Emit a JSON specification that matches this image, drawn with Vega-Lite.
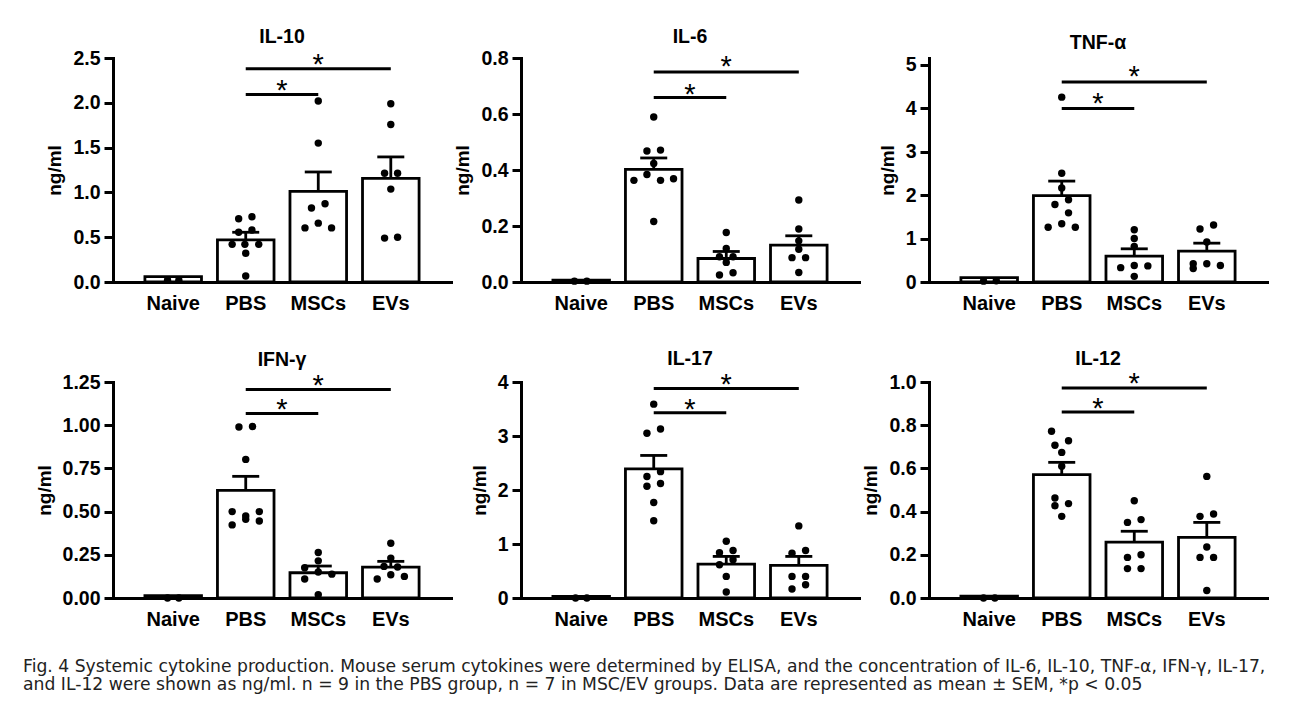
{
  "$schema": "https://vega.github.io/schema/vega-lite/v6.json",
  "background": "white",
  "padding": {"left": 23, "top": 26, "right": 5, "bottom": 5},
  "datasets": {
    "d": [
      {"p": "IL-10", "k": "bar", "g": "Naive", "v": 0.06},
      {"p": "IL-10", "k": "bar", "g": "PBS", "v": 0.47, "hi": 0.555},
      {"p": "IL-10", "k": "bar", "g": "MSCs", "v": 1.011, "hi": 1.228},
      {"p": "IL-10", "k": "bar", "g": "EVs", "v": 1.157, "hi": 1.396},
      {"p": "IL-10", "k": "pt", "g": "Naive", "v": 0.02, "j": -0.2},
      {"p": "IL-10", "k": "pt", "g": "Naive", "v": 0.02, "j": 0.2},
      {"p": "IL-10", "k": "pt", "g": "PBS", "v": 0.705, "j": -0.25},
      {"p": "IL-10", "k": "pt", "g": "PBS", "v": 0.728, "j": 0.22},
      {"p": "IL-10", "k": "pt", "g": "PBS", "v": 0.556, "j": -0.25},
      {"p": "IL-10", "k": "pt", "g": "PBS", "v": 0.58, "j": 0.22},
      {"p": "IL-10", "k": "pt", "g": "PBS", "v": 0.42, "j": -0.48},
      {"p": "IL-10", "k": "pt", "g": "PBS", "v": 0.42, "j": -0.03},
      {"p": "IL-10", "k": "pt", "g": "PBS", "v": 0.42, "j": 0.46},
      {"p": "IL-10", "k": "pt", "g": "PBS", "v": 0.32, "j": 0},
      {"p": "IL-10", "k": "pt", "g": "PBS", "v": 0.067, "j": 0},
      {"p": "IL-10", "k": "pt", "g": "MSCs", "v": 2.02, "j": 0},
      {"p": "IL-10", "k": "pt", "g": "MSCs", "v": 1.55, "j": 0},
      {"p": "IL-10", "k": "pt", "g": "MSCs", "v": 0.825, "j": -0.24},
      {"p": "IL-10", "k": "pt", "g": "MSCs", "v": 0.873, "j": 0.24},
      {"p": "IL-10", "k": "pt", "g": "MSCs", "v": 0.604, "j": -0.47},
      {"p": "IL-10", "k": "pt", "g": "MSCs", "v": 0.657, "j": 0},
      {"p": "IL-10", "k": "pt", "g": "MSCs", "v": 0.604, "j": 0.47},
      {"p": "IL-10", "k": "pt", "g": "EVs", "v": 1.99, "j": 0},
      {"p": "IL-10", "k": "pt", "g": "EVs", "v": 1.757, "j": 0},
      {"p": "IL-10", "k": "pt", "g": "EVs", "v": 1.213, "j": -0.22},
      {"p": "IL-10", "k": "pt", "g": "EVs", "v": 1.213, "j": 0.24},
      {"p": "IL-10", "k": "pt", "g": "EVs", "v": 1.037, "j": 0},
      {"p": "IL-10", "k": "pt", "g": "EVs", "v": 0.49, "j": -0.22},
      {"p": "IL-10", "k": "pt", "g": "EVs", "v": 0.5, "j": 0.24},
      {"p": "IL-10", "k": "sig", "g": "PBS", "g2": "MSCs", "v": 2.093, "s": 2.2},
      {"p": "IL-10", "k": "sig", "g": "PBS", "g2": "EVs", "v": 2.38, "s": 2.485},

      {"p": "IL-6", "k": "bar", "g": "Naive", "v": 0.007},
      {"p": "IL-6", "k": "bar", "g": "PBS", "v": 0.402, "hi": 0.443},
      {"p": "IL-6", "k": "bar", "g": "MSCs", "v": 0.084, "hi": 0.109},
      {"p": "IL-6", "k": "bar", "g": "EVs", "v": 0.132, "hi": 0.165},
      {"p": "IL-6", "k": "pt", "g": "Naive", "v": 0.003, "j": -0.24},
      {"p": "IL-6", "k": "pt", "g": "Naive", "v": 0.003, "j": 0.2},
      {"p": "IL-6", "k": "pt", "g": "PBS", "v": 0.589, "j": 0},
      {"p": "IL-6", "k": "pt", "g": "PBS", "v": 0.468, "j": -0.24},
      {"p": "IL-6", "k": "pt", "g": "PBS", "v": 0.471, "j": 0.24},
      {"p": "IL-6", "k": "pt", "g": "PBS", "v": 0.423, "j": 0},
      {"p": "IL-6", "k": "pt", "g": "PBS", "v": 0.363, "j": -0.7},
      {"p": "IL-6", "k": "pt", "g": "PBS", "v": 0.384, "j": -0.24},
      {"p": "IL-6", "k": "pt", "g": "PBS", "v": 0.363, "j": 0.24},
      {"p": "IL-6", "k": "pt", "g": "PBS", "v": 0.369, "j": 0.7},
      {"p": "IL-6", "k": "pt", "g": "PBS", "v": 0.216, "j": 0},
      {"p": "IL-6", "k": "pt", "g": "MSCs", "v": 0.177, "j": 0},
      {"p": "IL-6", "k": "pt", "g": "MSCs", "v": 0.12, "j": 0},
      {"p": "IL-6", "k": "pt", "g": "MSCs", "v": 0.09, "j": -0.24},
      {"p": "IL-6", "k": "pt", "g": "MSCs", "v": 0.09, "j": 0.24},
      {"p": "IL-6", "k": "pt", "g": "MSCs", "v": 0.07, "j": 0},
      {"p": "IL-6", "k": "pt", "g": "MSCs", "v": 0.025, "j": -0.24},
      {"p": "IL-6", "k": "pt", "g": "MSCs", "v": 0.033, "j": 0.24},
      {"p": "IL-6", "k": "pt", "g": "EVs", "v": 0.293, "j": 0},
      {"p": "IL-6", "k": "pt", "g": "EVs", "v": 0.189, "j": 0},
      {"p": "IL-6", "k": "pt", "g": "EVs", "v": 0.147, "j": 0},
      {"p": "IL-6", "k": "pt", "g": "EVs", "v": 0.117, "j": 0},
      {"p": "IL-6", "k": "pt", "g": "EVs", "v": 0.087, "j": -0.24},
      {"p": "IL-6", "k": "pt", "g": "EVs", "v": 0.087, "j": 0.24},
      {"p": "IL-6", "k": "pt", "g": "EVs", "v": 0.034, "j": 0},
      {"p": "IL-6", "k": "sig", "g": "PBS", "g2": "MSCs", "v": 0.659, "s": 0.69},
      {"p": "IL-6", "k": "sig", "g": "PBS", "g2": "EVs", "v": 0.75, "s": 0.788},

      {"p": "TNF-α", "k": "bar", "g": "Naive", "v": 0.1},
      {"p": "TNF-α", "k": "bar", "g": "PBS", "v": 1.985, "hi": 2.32},
      {"p": "TNF-α", "k": "bar", "g": "MSCs", "v": 0.595, "hi": 0.763},
      {"p": "TNF-α", "k": "bar", "g": "EVs", "v": 0.71, "hi": 0.893},
      {"p": "TNF-α", "k": "pt", "g": "Naive", "v": 0.02, "j": -0.2},
      {"p": "TNF-α", "k": "pt", "g": "Naive", "v": 0.03, "j": 0.25},
      {"p": "TNF-α", "k": "pt", "g": "PBS", "v": 4.25, "j": 0},
      {"p": "TNF-α", "k": "pt", "g": "PBS", "v": 2.5, "j": 0},
      {"p": "TNF-α", "k": "pt", "g": "PBS", "v": 2.16, "j": 0},
      {"p": "TNF-α", "k": "pt", "g": "PBS", "v": 1.89, "j": 0.24},
      {"p": "TNF-α", "k": "pt", "g": "PBS", "v": 1.78, "j": -0.24},
      {"p": "TNF-α", "k": "pt", "g": "PBS", "v": 1.59, "j": 0.24},
      {"p": "TNF-α", "k": "pt", "g": "PBS", "v": 1.26, "j": -0.48},
      {"p": "TNF-α", "k": "pt", "g": "PBS", "v": 1.34, "j": 0},
      {"p": "TNF-α", "k": "pt", "g": "PBS", "v": 1.26, "j": 0.48},
      {"p": "TNF-α", "k": "pt", "g": "MSCs", "v": 1.2, "j": 0},
      {"p": "TNF-α", "k": "pt", "g": "MSCs", "v": 1.0, "j": 0},
      {"p": "TNF-α", "k": "pt", "g": "MSCs", "v": 0.82, "j": 0},
      {"p": "TNF-α", "k": "pt", "g": "MSCs", "v": 0.33, "j": -0.48},
      {"p": "TNF-α", "k": "pt", "g": "MSCs", "v": 0.38, "j": 0},
      {"p": "TNF-α", "k": "pt", "g": "MSCs", "v": 0.37, "j": 0.48},
      {"p": "TNF-α", "k": "pt", "g": "MSCs", "v": 0.13, "j": 0},
      {"p": "TNF-α", "k": "pt", "g": "EVs", "v": 1.22, "j": -0.24},
      {"p": "TNF-α", "k": "pt", "g": "EVs", "v": 1.31, "j": 0.24},
      {"p": "TNF-α", "k": "pt", "g": "EVs", "v": 0.92, "j": 0},
      {"p": "TNF-α", "k": "pt", "g": "EVs", "v": 0.42, "j": -0.48},
      {"p": "TNF-α", "k": "pt", "g": "EVs", "v": 0.31, "j": -0.48},
      {"p": "TNF-α", "k": "pt", "g": "EVs", "v": 0.42, "j": 0},
      {"p": "TNF-α", "k": "pt", "g": "EVs", "v": 0.38, "j": 0.48},
      {"p": "TNF-α", "k": "sig", "g": "PBS", "g2": "MSCs", "v": 3.99, "s": 4.22},
      {"p": "TNF-α", "k": "sig", "g": "PBS", "g2": "EVs", "v": 4.6, "s": 4.85},

      {"p": "IFN-γ", "k": "bar", "g": "Naive", "v": 0.013},
      {"p": "IFN-γ", "k": "bar", "g": "PBS", "v": 0.623, "hi": 0.704},
      {"p": "IFN-γ", "k": "bar", "g": "MSCs", "v": 0.146, "hi": 0.185},
      {"p": "IFN-γ", "k": "bar", "g": "EVs", "v": 0.179, "hi": 0.212},
      {"p": "IFN-γ", "k": "pt", "g": "Naive", "v": 0.0, "j": -0.2},
      {"p": "IFN-γ", "k": "pt", "g": "Naive", "v": 0.0, "j": 0.2},
      {"p": "IFN-γ", "k": "pt", "g": "PBS", "v": 0.99, "j": -0.24},
      {"p": "IFN-γ", "k": "pt", "g": "PBS", "v": 0.992, "j": 0.24},
      {"p": "IFN-γ", "k": "pt", "g": "PBS", "v": 0.802, "j": 0},
      {"p": "IFN-γ", "k": "pt", "g": "PBS", "v": 0.5, "j": -0.48},
      {"p": "IFN-γ", "k": "pt", "g": "PBS", "v": 0.475, "j": 0},
      {"p": "IFN-γ", "k": "pt", "g": "PBS", "v": 0.5, "j": 0.48},
      {"p": "IFN-γ", "k": "pt", "g": "PBS", "v": 0.423, "j": -0.48},
      {"p": "IFN-γ", "k": "pt", "g": "PBS", "v": 0.456, "j": 0},
      {"p": "IFN-γ", "k": "pt", "g": "PBS", "v": 0.446, "j": 0.48},
      {"p": "IFN-γ", "k": "pt", "g": "MSCs", "v": 0.263, "j": 0},
      {"p": "IFN-γ", "k": "pt", "g": "MSCs", "v": 0.215, "j": 0},
      {"p": "IFN-γ", "k": "pt", "g": "MSCs", "v": 0.175, "j": -0.48},
      {"p": "IFN-γ", "k": "pt", "g": "MSCs", "v": 0.15, "j": 0},
      {"p": "IFN-γ", "k": "pt", "g": "MSCs", "v": 0.11, "j": -0.48},
      {"p": "IFN-γ", "k": "pt", "g": "MSCs", "v": 0.138, "j": 0.48},
      {"p": "IFN-γ", "k": "pt", "g": "MSCs", "v": 0.019, "j": 0},
      {"p": "IFN-γ", "k": "pt", "g": "EVs", "v": 0.317, "j": 0},
      {"p": "IFN-γ", "k": "pt", "g": "EVs", "v": 0.231, "j": 0},
      {"p": "IFN-γ", "k": "pt", "g": "EVs", "v": 0.183, "j": -0.24},
      {"p": "IFN-γ", "k": "pt", "g": "EVs", "v": 0.179, "j": 0.24},
      {"p": "IFN-γ", "k": "pt", "g": "EVs", "v": 0.11, "j": -0.48},
      {"p": "IFN-γ", "k": "pt", "g": "EVs", "v": 0.135, "j": 0},
      {"p": "IFN-γ", "k": "pt", "g": "EVs", "v": 0.125, "j": 0.48},
      {"p": "IFN-γ", "k": "sig", "g": "PBS", "g2": "MSCs", "v": 1.067, "s": 1.12},
      {"p": "IFN-γ", "k": "sig", "g": "PBS", "g2": "EVs", "v": 1.206, "s": 1.263},

      {"p": "IL-17", "k": "bar", "g": "Naive", "v": 0.03},
      {"p": "IL-17", "k": "bar", "g": "PBS", "v": 2.39, "hi": 2.64},
      {"p": "IL-17", "k": "bar", "g": "MSCs", "v": 0.628, "hi": 0.77},
      {"p": "IL-17", "k": "bar", "g": "EVs", "v": 0.603, "hi": 0.77},
      {"p": "IL-17", "k": "pt", "g": "Naive", "v": 0.0, "j": -0.2},
      {"p": "IL-17", "k": "pt", "g": "Naive", "v": 0.0, "j": 0.2},
      {"p": "IL-17", "k": "pt", "g": "PBS", "v": 3.59, "j": 0},
      {"p": "IL-17", "k": "pt", "g": "PBS", "v": 3.05, "j": -0.24},
      {"p": "IL-17", "k": "pt", "g": "PBS", "v": 3.13, "j": 0.24},
      {"p": "IL-17", "k": "pt", "g": "PBS", "v": 2.25, "j": -0.24},
      {"p": "IL-17", "k": "pt", "g": "PBS", "v": 2.34, "j": 0.24},
      {"p": "IL-17", "k": "pt", "g": "PBS", "v": 2.07, "j": -0.24},
      {"p": "IL-17", "k": "pt", "g": "PBS", "v": 2.12, "j": 0.24},
      {"p": "IL-17", "k": "pt", "g": "PBS", "v": 1.77, "j": 0},
      {"p": "IL-17", "k": "pt", "g": "PBS", "v": 1.43, "j": 0},
      {"p": "IL-17", "k": "pt", "g": "MSCs", "v": 1.05, "j": 0},
      {"p": "IL-17", "k": "pt", "g": "MSCs", "v": 0.84, "j": -0.24},
      {"p": "IL-17", "k": "pt", "g": "MSCs", "v": 0.88, "j": 0.24},
      {"p": "IL-17", "k": "pt", "g": "MSCs", "v": 0.615, "j": -0.24},
      {"p": "IL-17", "k": "pt", "g": "MSCs", "v": 0.71, "j": 0.24},
      {"p": "IL-17", "k": "pt", "g": "MSCs", "v": 0.4, "j": 0},
      {"p": "IL-17", "k": "pt", "g": "MSCs", "v": 0.11, "j": 0},
      {"p": "IL-17", "k": "pt", "g": "EVs", "v": 1.335, "j": 0},
      {"p": "IL-17", "k": "pt", "g": "EVs", "v": 0.83, "j": -0.24},
      {"p": "IL-17", "k": "pt", "g": "EVs", "v": 0.88, "j": 0.24},
      {"p": "IL-17", "k": "pt", "g": "EVs", "v": 0.4, "j": -0.24},
      {"p": "IL-17", "k": "pt", "g": "EVs", "v": 0.4, "j": 0.24},
      {"p": "IL-17", "k": "pt", "g": "EVs", "v": 0.166, "j": -0.24},
      {"p": "IL-17", "k": "pt", "g": "EVs", "v": 0.246, "j": 0.24},
      {"p": "IL-17", "k": "sig", "g": "PBS", "g2": "MSCs", "v": 3.43, "s": 3.6},
      {"p": "IL-17", "k": "sig", "g": "PBS", "g2": "EVs", "v": 3.88, "s": 4.06},

      {"p": "IL-12", "k": "bar", "g": "Naive", "v": 0.009},
      {"p": "IL-12", "k": "bar", "g": "PBS", "v": 0.571, "hi": 0.628},
      {"p": "IL-12", "k": "bar", "g": "MSCs", "v": 0.259, "hi": 0.309},
      {"p": "IL-12", "k": "bar", "g": "EVs", "v": 0.281, "hi": 0.35},
      {"p": "IL-12", "k": "pt", "g": "Naive", "v": 0.0, "j": -0.2},
      {"p": "IL-12", "k": "pt", "g": "Naive", "v": 0.0, "j": 0.2},
      {"p": "IL-12", "k": "pt", "g": "PBS", "v": 0.772, "j": -0.36},
      {"p": "IL-12", "k": "pt", "g": "PBS", "v": 0.728, "j": 0.24},
      {"p": "IL-12", "k": "pt", "g": "PBS", "v": 0.707, "j": -0.24},
      {"p": "IL-12", "k": "pt", "g": "PBS", "v": 0.674, "j": 0},
      {"p": "IL-12", "k": "pt", "g": "PBS", "v": 0.61, "j": 0},
      {"p": "IL-12", "k": "pt", "g": "PBS", "v": 0.463, "j": -0.24},
      {"p": "IL-12", "k": "pt", "g": "PBS", "v": 0.427, "j": -0.24},
      {"p": "IL-12", "k": "pt", "g": "PBS", "v": 0.437, "j": 0.24},
      {"p": "IL-12", "k": "pt", "g": "PBS", "v": 0.378, "j": 0},
      {"p": "IL-12", "k": "pt", "g": "MSCs", "v": 0.45, "j": 0},
      {"p": "IL-12", "k": "pt", "g": "MSCs", "v": 0.35, "j": -0.24},
      {"p": "IL-12", "k": "pt", "g": "MSCs", "v": 0.363, "j": 0.24},
      {"p": "IL-12", "k": "pt", "g": "MSCs", "v": 0.188, "j": -0.24},
      {"p": "IL-12", "k": "pt", "g": "MSCs", "v": 0.2, "j": 0.24},
      {"p": "IL-12", "k": "pt", "g": "MSCs", "v": 0.136, "j": -0.24},
      {"p": "IL-12", "k": "pt", "g": "MSCs", "v": 0.136, "j": 0.24},
      {"p": "IL-12", "k": "pt", "g": "EVs", "v": 0.563, "j": 0},
      {"p": "IL-12", "k": "pt", "g": "EVs", "v": 0.378, "j": -0.24},
      {"p": "IL-12", "k": "pt", "g": "EVs", "v": 0.389, "j": 0.24},
      {"p": "IL-12", "k": "pt", "g": "EVs", "v": 0.236, "j": 0},
      {"p": "IL-12", "k": "pt", "g": "EVs", "v": 0.188, "j": -0.24},
      {"p": "IL-12", "k": "pt", "g": "EVs", "v": 0.188, "j": 0.24},
      {"p": "IL-12", "k": "pt", "g": "EVs", "v": 0.035, "j": 0},
      {"p": "IL-12", "k": "sig", "g": "PBS", "g2": "MSCs", "v": 0.861, "s": 0.903},
      {"p": "IL-12", "k": "sig", "g": "PBS", "g2": "EVs", "v": 0.972, "s": 1.018}
    ]
  },
  "columns": 3,
  "spacing": {"row": 100, "column": 70},
  "bounds": "flush",
  "title": {
    "text": [
      "Fig. 4 Systemic cytokine production. Mouse serum cytokines were determined by ELISA, and the concentration of IL-6, IL-10, TNF-α, IFN-γ, IL-17,",
      "and IL-12 were shown as ng/ml. n = 9 in the PBS group, n = 7 in MSC/EV groups. Data are represented as mean ± SEM, *p < 0.05"
    ],
    "orient": "bottom",
    "anchor": "start",
    "frame": "bounds",
    "font": "DejaVu Sans",
    "fontSize": 17.2,
    "fontWeight": "normal",
    "color": "#222222",
    "lineHeight": 17.5,
    "offset": 29,
    "dx": -12
  },
  "concat": [
    {
      "title": "IL-10",
      "width": 338, "height": 224,
      "data": {"name": "d"},
      "transform": [{"filter": "datum.p === 'IL-10'"}],
      "resolve": {"scale": {"xOffset": "independent"}},
      "encoding": {
        "x": {"field": "g", "type": "nominal", "scale": {"domain": ["Naive", "PBS", "MSCs", "EVs"], "paddingInner": 0.22, "paddingOuter": 0.44}, "axis": {"title": null}},
        "y": {"field": "v", "type": "quantitative", "scale": {"domain": [0, 2.5], "nice": false}, "axis": {"title": "ng/ml", "values": [0, 0.5, 1, 1.5, 2, 2.5], "format": ".1f"}}
      },
      "layer": [
        {"transform": [{"filter": "datum.k === 'bar'"}], "mark": {"type": "bar", "fill": "white", "stroke": "black", "strokeWidth": 2.8}},
        {"transform": [{"filter": "datum.k === 'pt'"}], "mark": {"type": "circle", "color": "black", "opacity": 1, "size": 55}, "encoding": {"xOffset": {"field": "j", "type": "quantitative", "scale": {"domain": [-1, 1]}}}},
        {"transform": [{"filter": "datum.k === 'bar' && datum.hi != null"}], "mark": {"type": "rule", "color": "black", "strokeWidth": 2.8}, "encoding": {"y2": {"field": "hi"}}},
        {"transform": [{"filter": "datum.k === 'bar' && datum.hi != null"}], "mark": {"type": "tick", "color": "black", "opacity": 1, "thickness": 2.8, "size": 27, "orient": "horizontal"}, "encoding": {"y": {"field": "hi", "type": "quantitative"}}},
        {"transform": [{"filter": "datum.k === 'sig'"}], "mark": {"type": "rule", "color": "black", "strokeWidth": 3}, "encoding": {"x2": {"field": "g2"}}},
        {"transform": [{"filter": "datum.k === 'sig' && datum.g2 === 'MSCs'"}], "mark": {"type": "text", "text": "*", "fontSize": 29, "baseline": "middle", "dy": 6, "color": "black"}, "encoding": {"x": {"field": "g", "type": "nominal", "bandPosition": 1.141}, "y": {"field": "s", "type": "quantitative"}}},
        {"transform": [{"filter": "datum.k === 'sig' && datum.g2 === 'EVs'"}], "mark": {"type": "text", "text": "*", "fontSize": 29, "baseline": "middle", "dy": 6, "color": "black"}, "encoding": {"x": {"field": "g", "type": "nominal", "bandPosition": 1.782}, "y": {"field": "s", "type": "quantitative"}}}
      ]
    },
    {
      "title": "IL-6",
      "width": 338, "height": 224,
      "data": {"name": "d"},
      "transform": [{"filter": "datum.p === 'IL-6'"}],
      "resolve": {"scale": {"xOffset": "independent"}},
      "encoding": {
        "x": {"field": "g", "type": "nominal", "scale": {"domain": ["Naive", "PBS", "MSCs", "EVs"], "paddingInner": 0.22, "paddingOuter": 0.44}, "axis": {"title": null}},
        "y": {"field": "v", "type": "quantitative", "scale": {"domain": [0, 0.8], "nice": false}, "axis": {"title": "ng/ml", "values": [0, 0.2, 0.4, 0.6, 0.8], "format": ".1f"}}
      },
      "layer": [
        {"transform": [{"filter": "datum.k === 'bar'"}], "mark": {"type": "bar", "fill": "white", "stroke": "black", "strokeWidth": 2.8}},
        {"transform": [{"filter": "datum.k === 'pt'"}], "mark": {"type": "circle", "color": "black", "opacity": 1, "size": 55}, "encoding": {"xOffset": {"field": "j", "type": "quantitative", "scale": {"domain": [-1, 1]}}}},
        {"transform": [{"filter": "datum.k === 'bar' && datum.hi != null"}], "mark": {"type": "rule", "color": "black", "strokeWidth": 2.8}, "encoding": {"y2": {"field": "hi"}}},
        {"transform": [{"filter": "datum.k === 'bar' && datum.hi != null"}], "mark": {"type": "tick", "color": "black", "opacity": 1, "thickness": 2.8, "size": 27, "orient": "horizontal"}, "encoding": {"y": {"field": "hi", "type": "quantitative"}}},
        {"transform": [{"filter": "datum.k === 'sig'"}], "mark": {"type": "rule", "color": "black", "strokeWidth": 3}, "encoding": {"x2": {"field": "g2"}}},
        {"transform": [{"filter": "datum.k === 'sig' && datum.g2 === 'MSCs'"}], "mark": {"type": "text", "text": "*", "fontSize": 29, "baseline": "middle", "dy": 6, "color": "black"}, "encoding": {"x": {"field": "g", "type": "nominal", "bandPosition": 1.141}, "y": {"field": "s", "type": "quantitative"}}},
        {"transform": [{"filter": "datum.k === 'sig' && datum.g2 === 'EVs'"}], "mark": {"type": "text", "text": "*", "fontSize": 29, "baseline": "middle", "dy": 6, "color": "black"}, "encoding": {"x": {"field": "g", "type": "nominal", "bandPosition": 1.782}, "y": {"field": "s", "type": "quantitative"}}}
      ]
    },
    {
      "title": "TNF-α",
      "width": 338, "height": 224,
      "data": {"name": "d"},
      "transform": [{"filter": "datum.p === 'TNF-α'"}],
      "resolve": {"scale": {"xOffset": "independent"}},
      "encoding": {
        "x": {"field": "g", "type": "nominal", "scale": {"domain": ["Naive", "PBS", "MSCs", "EVs"], "paddingInner": 0.22, "paddingOuter": 0.44}, "axis": {"title": null}},
        "y": {"field": "v", "type": "quantitative", "scale": {"domain": [0, 5.15], "nice": false}, "axis": {"title": "ng/ml", "values": [0, 1, 2, 3, 4, 5], "format": "d"}}
      },
      "layer": [
        {"transform": [{"filter": "datum.k === 'bar'"}], "mark": {"type": "bar", "fill": "white", "stroke": "black", "strokeWidth": 2.8}},
        {"transform": [{"filter": "datum.k === 'pt'"}], "mark": {"type": "circle", "color": "black", "opacity": 1, "size": 55}, "encoding": {"xOffset": {"field": "j", "type": "quantitative", "scale": {"domain": [-1, 1]}}}},
        {"transform": [{"filter": "datum.k === 'bar' && datum.hi != null"}], "mark": {"type": "rule", "color": "black", "strokeWidth": 2.8}, "encoding": {"y2": {"field": "hi"}}},
        {"transform": [{"filter": "datum.k === 'bar' && datum.hi != null"}], "mark": {"type": "tick", "color": "black", "opacity": 1, "thickness": 2.8, "size": 27, "orient": "horizontal"}, "encoding": {"y": {"field": "hi", "type": "quantitative"}}},
        {"transform": [{"filter": "datum.k === 'sig'"}], "mark": {"type": "rule", "color": "black", "strokeWidth": 3}, "encoding": {"x2": {"field": "g2"}}},
        {"transform": [{"filter": "datum.k === 'sig' && datum.g2 === 'MSCs'"}], "mark": {"type": "text", "text": "*", "fontSize": 29, "baseline": "middle", "dy": 6, "color": "black"}, "encoding": {"x": {"field": "g", "type": "nominal", "bandPosition": 1.141}, "y": {"field": "s", "type": "quantitative"}}},
        {"transform": [{"filter": "datum.k === 'sig' && datum.g2 === 'EVs'"}], "mark": {"type": "text", "text": "*", "fontSize": 29, "baseline": "middle", "dy": 6, "color": "black"}, "encoding": {"x": {"field": "g", "type": "nominal", "bandPosition": 1.782}, "y": {"field": "s", "type": "quantitative"}}}
      ]
    },
    {
      "title": "IFN-γ",
      "width": 338, "height": 216,
      "data": {"name": "d"},
      "transform": [{"filter": "datum.p === 'IFN-γ'"}],
      "resolve": {"scale": {"xOffset": "independent"}},
      "encoding": {
        "x": {"field": "g", "type": "nominal", "scale": {"domain": ["Naive", "PBS", "MSCs", "EVs"], "paddingInner": 0.22, "paddingOuter": 0.44}, "axis": {"title": null}},
        "y": {"field": "v", "type": "quantitative", "scale": {"domain": [0, 1.25], "nice": false}, "axis": {"title": "ng/ml", "values": [0, 0.25, 0.5, 0.75, 1, 1.25], "format": ".2f"}}
      },
      "layer": [
        {"transform": [{"filter": "datum.k === 'bar'"}], "mark": {"type": "bar", "fill": "white", "stroke": "black", "strokeWidth": 2.8}},
        {"transform": [{"filter": "datum.k === 'pt'"}], "mark": {"type": "circle", "color": "black", "opacity": 1, "size": 55}, "encoding": {"xOffset": {"field": "j", "type": "quantitative", "scale": {"domain": [-1, 1]}}}},
        {"transform": [{"filter": "datum.k === 'bar' && datum.hi != null"}], "mark": {"type": "rule", "color": "black", "strokeWidth": 2.8}, "encoding": {"y2": {"field": "hi"}}},
        {"transform": [{"filter": "datum.k === 'bar' && datum.hi != null"}], "mark": {"type": "tick", "color": "black", "opacity": 1, "thickness": 2.8, "size": 27, "orient": "horizontal"}, "encoding": {"y": {"field": "hi", "type": "quantitative"}}},
        {"transform": [{"filter": "datum.k === 'sig'"}], "mark": {"type": "rule", "color": "black", "strokeWidth": 3}, "encoding": {"x2": {"field": "g2"}}},
        {"transform": [{"filter": "datum.k === 'sig' && datum.g2 === 'MSCs'"}], "mark": {"type": "text", "text": "*", "fontSize": 29, "baseline": "middle", "dy": 6, "color": "black"}, "encoding": {"x": {"field": "g", "type": "nominal", "bandPosition": 1.141}, "y": {"field": "s", "type": "quantitative"}}},
        {"transform": [{"filter": "datum.k === 'sig' && datum.g2 === 'EVs'"}], "mark": {"type": "text", "text": "*", "fontSize": 29, "baseline": "middle", "dy": 6, "color": "black"}, "encoding": {"x": {"field": "g", "type": "nominal", "bandPosition": 1.782}, "y": {"field": "s", "type": "quantitative"}}}
      ]
    },
    {
      "title": "IL-17",
      "width": 338, "height": 216,
      "data": {"name": "d"},
      "transform": [{"filter": "datum.p === 'IL-17'"}],
      "resolve": {"scale": {"xOffset": "independent"}},
      "encoding": {
        "x": {"field": "g", "type": "nominal", "scale": {"domain": ["Naive", "PBS", "MSCs", "EVs"], "paddingInner": 0.22, "paddingOuter": 0.44}, "axis": {"title": null}},
        "y": {"field": "v", "type": "quantitative", "scale": {"domain": [0, 4], "nice": false}, "axis": {"title": "ng/ml", "values": [0, 1, 2, 3, 4], "format": "d"}}
      },
      "layer": [
        {"transform": [{"filter": "datum.k === 'bar'"}], "mark": {"type": "bar", "fill": "white", "stroke": "black", "strokeWidth": 2.8}},
        {"transform": [{"filter": "datum.k === 'pt'"}], "mark": {"type": "circle", "color": "black", "opacity": 1, "size": 55}, "encoding": {"xOffset": {"field": "j", "type": "quantitative", "scale": {"domain": [-1, 1]}}}},
        {"transform": [{"filter": "datum.k === 'bar' && datum.hi != null"}], "mark": {"type": "rule", "color": "black", "strokeWidth": 2.8}, "encoding": {"y2": {"field": "hi"}}},
        {"transform": [{"filter": "datum.k === 'bar' && datum.hi != null"}], "mark": {"type": "tick", "color": "black", "opacity": 1, "thickness": 2.8, "size": 27, "orient": "horizontal"}, "encoding": {"y": {"field": "hi", "type": "quantitative"}}},
        {"transform": [{"filter": "datum.k === 'sig'"}], "mark": {"type": "rule", "color": "black", "strokeWidth": 3}, "encoding": {"x2": {"field": "g2"}}},
        {"transform": [{"filter": "datum.k === 'sig' && datum.g2 === 'MSCs'"}], "mark": {"type": "text", "text": "*", "fontSize": 29, "baseline": "middle", "dy": 6, "color": "black"}, "encoding": {"x": {"field": "g", "type": "nominal", "bandPosition": 1.141}, "y": {"field": "s", "type": "quantitative"}}},
        {"transform": [{"filter": "datum.k === 'sig' && datum.g2 === 'EVs'"}], "mark": {"type": "text", "text": "*", "fontSize": 29, "baseline": "middle", "dy": 6, "color": "black"}, "encoding": {"x": {"field": "g", "type": "nominal", "bandPosition": 1.782}, "y": {"field": "s", "type": "quantitative"}}}
      ]
    },
    {
      "title": "IL-12",
      "width": 338, "height": 216,
      "data": {"name": "d"},
      "transform": [{"filter": "datum.p === 'IL-12'"}],
      "resolve": {"scale": {"xOffset": "independent"}},
      "encoding": {
        "x": {"field": "g", "type": "nominal", "scale": {"domain": ["Naive", "PBS", "MSCs", "EVs"], "paddingInner": 0.22, "paddingOuter": 0.44}, "axis": {"title": null}},
        "y": {"field": "v", "type": "quantitative", "scale": {"domain": [0, 1], "nice": false}, "axis": {"title": "ng/ml", "values": [0, 0.2, 0.4, 0.6, 0.8, 1], "format": ".1f"}}
      },
      "layer": [
        {"transform": [{"filter": "datum.k === 'bar'"}], "mark": {"type": "bar", "fill": "white", "stroke": "black", "strokeWidth": 2.8}},
        {"transform": [{"filter": "datum.k === 'pt'"}], "mark": {"type": "circle", "color": "black", "opacity": 1, "size": 55}, "encoding": {"xOffset": {"field": "j", "type": "quantitative", "scale": {"domain": [-1, 1]}}}},
        {"transform": [{"filter": "datum.k === 'bar' && datum.hi != null"}], "mark": {"type": "rule", "color": "black", "strokeWidth": 2.8}, "encoding": {"y2": {"field": "hi"}}},
        {"transform": [{"filter": "datum.k === 'bar' && datum.hi != null"}], "mark": {"type": "tick", "color": "black", "opacity": 1, "thickness": 2.8, "size": 27, "orient": "horizontal"}, "encoding": {"y": {"field": "hi", "type": "quantitative"}}},
        {"transform": [{"filter": "datum.k === 'sig'"}], "mark": {"type": "rule", "color": "black", "strokeWidth": 3}, "encoding": {"x2": {"field": "g2"}}},
        {"transform": [{"filter": "datum.k === 'sig' && datum.g2 === 'MSCs'"}], "mark": {"type": "text", "text": "*", "fontSize": 29, "baseline": "middle", "dy": 6, "color": "black"}, "encoding": {"x": {"field": "g", "type": "nominal", "bandPosition": 1.141}, "y": {"field": "s", "type": "quantitative"}}},
        {"transform": [{"filter": "datum.k === 'sig' && datum.g2 === 'EVs'"}], "mark": {"type": "text", "text": "*", "fontSize": 29, "baseline": "middle", "dy": 6, "color": "black"}, "encoding": {"x": {"field": "g", "type": "nominal", "bandPosition": 1.782}, "y": {"field": "s", "type": "quantitative"}}}
      ]
    }
  ],
  "config": {
    "font": "Liberation Sans",
    "view": {"stroke": null},
    "axis": {"domainColor": "black", "domainWidth": 3, "tickColor": "black", "tickWidth": 3, "labelColor": "black", "labelFontWeight": "bold", "titleColor": "black", "titleFontWeight": "bold", "grid": false, "labelFont": "Liberation Sans", "titleFont": "Liberation Sans", "domainCap": "square"},
    "axisY": {"tickSize": 9, "labelFontSize": 19.5, "labelPadding": 4, "titleFontSize": 19, "titlePadding": 8},
    "axisX": {"ticks": false, "labelFontSize": 20, "labelPadding": 11, "labelAngle": 0},
    "title": {"fontSize": 19.5, "fontWeight": "bold", "color": "black", "offset": 1, "font": "Liberation Sans", "frame": "group", "anchor": "middle"}
  }
}
